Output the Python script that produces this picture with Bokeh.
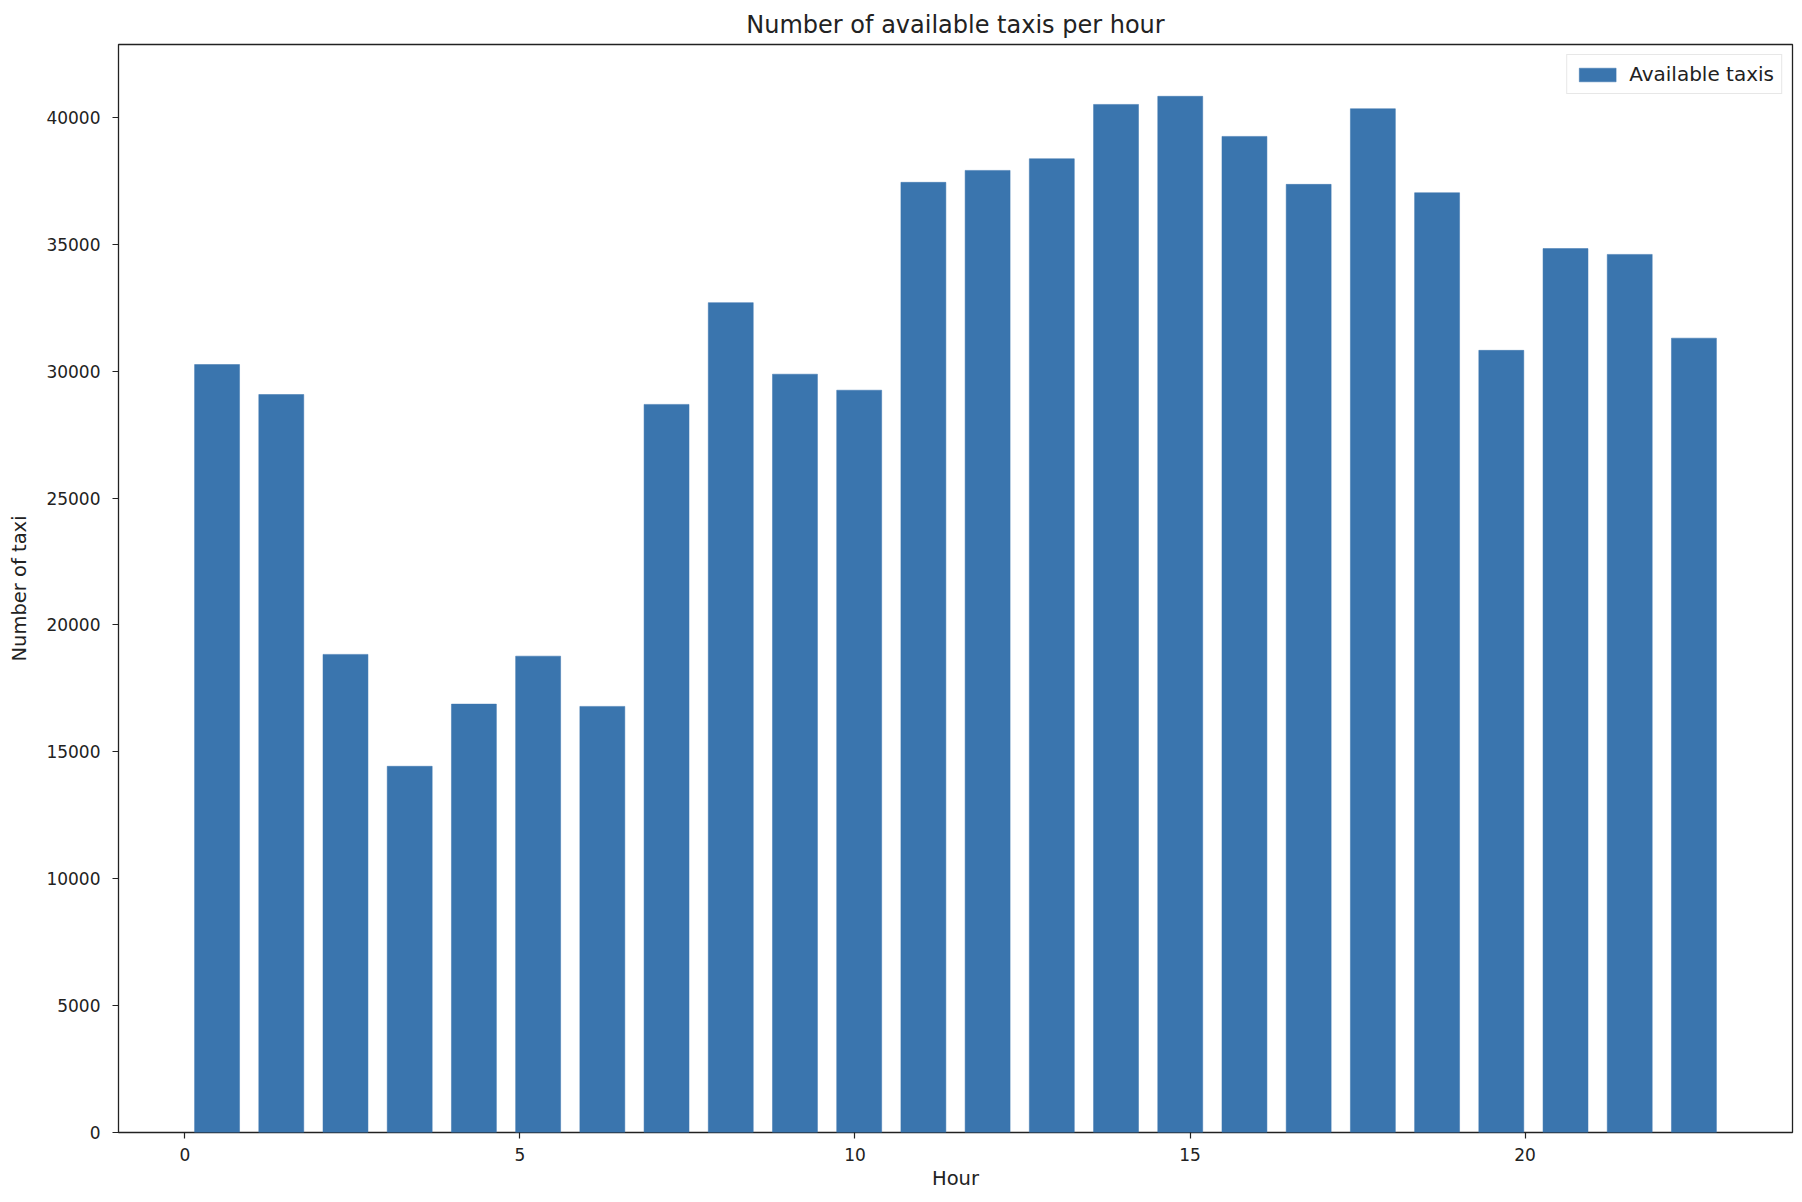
import numpy as np
from bokeh.plotting import figure
from bokeh.models import Range1d, FixedTicker, ColumnDataSource, Legend, LegendItem
from bokeh.embed import file_html
from bokeh.resources import INLINE

# ---- data ----
hours = list(range(24))
taxis = [30260, 29080, 18840, 14430, 16880, 18770, 16790, 28690,
         32700, 29880, 29250, 37440, 37910, 38370, 40510, 40830,
         39250, 37360, 40340, 37030, 30820, 34830, 34600, 31300]
x_ticks = [0, 5, 10, 15, 20]
y_ticks = [0, 5000, 10000, 15000, 20000, 25000, 30000, 35000, 40000]

title_text = "Number of available taxis per hour"
x_label = "Hour"
y_label = "Number of taxi"
legend_label = "Available taxis"

# histogram-like bins (24 bins spanning min..max hour), rwidth 0.7
edges = np.linspace(min(hours), max(hours), len(hours) + 1)
centers = (edges[:-1] + edges[1:]) / 2
bin_w = edges[1] - edges[0]
bar_w = 0.7 * bin_w

left = centers[0] - bar_w / 2
right = centers[-1] + bar_w / 2
pad = 0.05 * (right - left)

src = ColumnDataSource(dict(x=centers, top=taxis))

FONT = "DejaVu Sans"
BAR = "#3a75ae"
INK = "#222222"

p = figure(width=1794, height=1194, output_backend="svg", toolbar_location=None,
           x_range=Range1d(left - pad, right + pad),
           y_range=Range1d(0, max(taxis) * 1.05),
           min_border_left=118, min_border_right=2, min_border_top=44, min_border_bottom=62)

r = p.vbar(x="x", top="top", width=bar_w, bottom=0, source=src,
           fill_color=BAR, line_color=BAR, line_width=0.5)

p.title.text = title_text
p.title.text_font = FONT
p.title.text_font_size = "24px"
p.title.text_font_style = "normal"
p.title.text_color = INK
p.title.align = "center"
p.title.standoff = 11

p.xgrid.visible = False
p.ygrid.visible = False
p.outline_line_color = INK
p.outline_line_width = 1.3
p.background_fill_color = "white"
p.border_fill_color = "white"

for ax in (p.xaxis[0], p.yaxis[0]):
    ax.axis_line_color = None
    ax.major_tick_line_color = INK
    ax.major_tick_line_width = 1.2
    ax.major_tick_out = 6
    ax.major_tick_in = 0
    ax.minor_tick_line_color = None
    ax.major_label_text_font = FONT
    ax.major_label_text_font_size = "17px"
    ax.major_label_text_color = INK
    ax.axis_label_text_font = FONT
    ax.axis_label_text_font_size = "19.5px"
    ax.axis_label_text_font_style = "normal"
    ax.axis_label_text_color = INK

p.xaxis[0].ticker = FixedTicker(ticks=x_ticks)
p.yaxis[0].ticker = FixedTicker(ticks=y_ticks)
p.xaxis[0].axis_label = x_label
p.yaxis[0].axis_label = y_label
p.xaxis[0].major_label_standoff = 9
p.yaxis[0].major_label_standoff = 12
p.xaxis[0].axis_label_standoff = 3
p.yaxis[0].axis_label_standoff = 12

legend = Legend(items=[LegendItem(label=legend_label, renderers=[r])],
                location="top_right")
legend.label_text_font = FONT
legend.label_text_font_size = "20px"
legend.label_text_color = INK
legend.glyph_width = 46
legend.glyph_height = 17
legend.border_line_color = "#d0d0d0"
legend.border_line_width = 1
legend.padding = 7
legend.margin = 10
legend.spacing = 0
legend.label_standoff = 9
legend.background_fill_alpha = 0.9
p.add_layout(legend)

open("out.html", "w").write(file_html(p, INLINE))
